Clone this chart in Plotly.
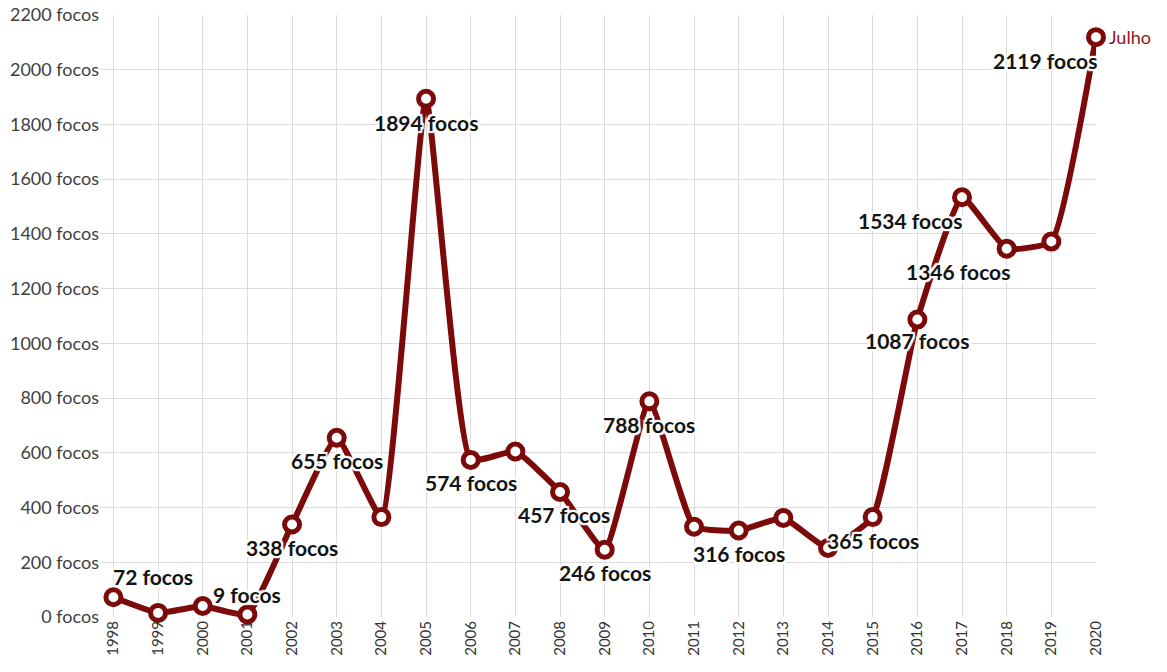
import plotly.graph_objects as go

years = list(range(1998, 2021))
focos = [72, 15, 40, 9, 338, 655, 365, 1894, 574, 605, 457, 246, 788,
         330, 316, 362, 252, 365, 1087, 1534, 1346, 1372, 2119]

label_years = [1998, 2001, 2002, 2003, 2005, 2006, 2008, 2009, 2010,
               2012, 2015, 2016, 2017, 2018, 2020]
# pixel offsets of each label relative to its point (style only)
label_dx = [40, 0, 0, 0, 0, 0, 4, 0, 0, 0, 0, 0, -52, -49, -51]
label_dy = [21, 20, -23, -23, -24, -23, -23, -23, -23, -23, -23, -21, -23, -23, -23]

last_label = "Julho"
y_ticks = [0, 200, 400, 600, 800, 1000, 1200, 1400, 1600, 1800, 2000, 2200]
y_tick_text = [f"{v} focos" for v in y_ticks]

RED = "#7d0a0a"

fig = go.Figure()
fig.add_trace(go.Scatter(
    x=years, y=focos, mode="lines+markers",
    line=dict(color=RED, width=6, shape="spline", smoothing=0.4),
    marker=dict(size=15, color="white", line=dict(color=RED, width=5)),
    cliponaxis=False, hoverinfo="x+y", showlegend=False,
))

halo = ("white 2px 0px 1px, white -2px 0px 1px, white 0px 2px 1px, white 0px -2px 1px, "
        "white 2px 2px 1px, white -2px -2px 1px, white 2px -2px 1px, white -2px 2px 1px")

for yr, dx, dy in zip(label_years, label_dx, label_dy):
    v = focos[years.index(yr)]
    fig.add_annotation(
        x=yr, y=v, text=f"{v} focos", showarrow=False,
        xshift=dx, yshift=dy,
        font=dict(family="Lato", size=21, color="#141414", weight="bold", shadow=halo),
    )

fig.add_annotation(
    x=years[-1], y=focos[-1], text=last_label, showarrow=False,
    xanchor="left", xshift=11, yshift=0,
    font=dict(family="Lato", size=18, color="#8b1a1a"),
)

fig.update_layout(
    width=1167, height=672,
    margin=dict(l=100, r=71, t=15, b=55, autoexpand=False),
    plot_bgcolor="white", paper_bgcolor="white",
    font=dict(family="Lato", color="#404040"),
)
fig.update_xaxes(
    range=[1997.7, 2020], tickvals=years, ticktext=[str(y) for y in years],
    tickangle=-90, tickfont=dict(size=15, color="#333333"),
    showgrid=True, gridcolor="#dcdcdc", gridwidth=1, automargin=False,
    zeroline=False, showline=False, ticks="", ticklabeloverflow="allow",
)
fig.update_yaxes(
    range=[0, 2200], tickvals=y_ticks, ticktext=y_tick_text,
    tickfont=dict(size=18, color="#404040"), automargin=False,
    showgrid=True, gridcolor="#dcdcdc", gridwidth=1,
    zeroline=False, showline=False, ticks="", ticklabeloverflow="allow",
)

fig.write_html(
    "out.html",
    config={"displayModeBar": False},
    post_script="document.body.style.margin='0';document.body.style.overflow='hidden';",
)
